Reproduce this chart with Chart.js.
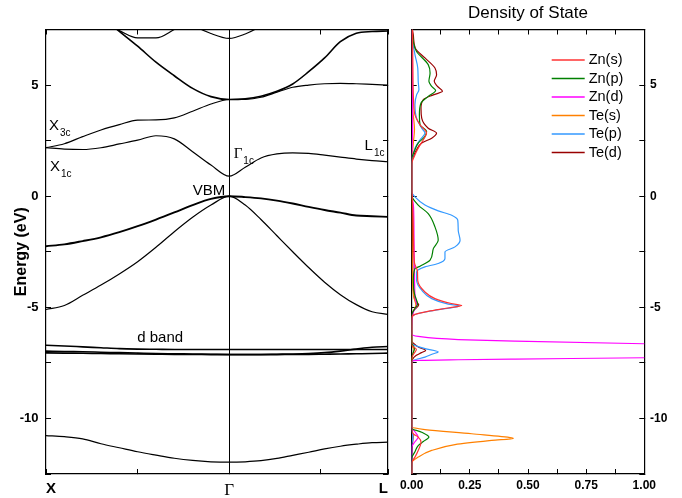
<!DOCTYPE html>
<html>
<head>
<meta charset="utf-8">
<script src="https://cdn.jsdelivr.net/npm/chart.js@4.4.0/dist/chart.umd.min.js"></script>
<style>
  html, body { margin: 0; padding: 0; background: #fff; }
  #wrap { position: relative; width: 682px; height: 498px; overflow: hidden; }
  #bandsBox { position: absolute; left: 0; top: 0; width: 400px; height: 498px; }
  #dosBox { position: absolute; left: 385px; top: 0; width: 297px; height: 498px; }
</style>
</head>
<body>
<div id="wrap">
  <div id="bandsBox"><canvas id="bands"></canvas></div>
  <div id="dosBox"><canvas id="dos"></canvas></div>
</div>
<script>
// k path X -> Gamma -> L (Gamma at 1, L at 1 + sqrt(3)/2)
const kPath = [0, 0.1, 0.2, 0.3, 0.4, 0.5, 0.6, 0.7, 0.8, 0.9, 1.0,
               1.087, 1.173, 1.26, 1.346, 1.433, 1.52, 1.606, 1.693, 1.779, 1.866];
const kTicks = [0, 0.5, 1, 1.5, 1.866];
const kTickLabels = ['X', '', 'Γ', '', 'L'];
const eTicks = [-12.5, -10, -7.5, -5, -2.5, 0, 2.5, 5, 7.5];
const dosTicks = [0, 0.125, 0.25, 0.375, 0.5, 0.625, 0.75, 0.875, 1];

// band energies (eV) on kPath
const bandS  = [-10.77, -10.82, -10.92, -11.14, -11.32, -11.5, -11.65, -11.79, -11.89, -11.95, -11.97,
                -11.95, -11.9, -11.8, -11.66, -11.52, -11.37, -11.25, -11.16, -11.09, -11.07];
const bandD1 = [-6.71, -6.74, -6.78, -6.82, -6.86, -6.88, -6.89, -6.9, -6.9, -6.9, -6.9,
                -6.9, -6.9, -6.9, -6.9, -6.9, -6.9, -6.9, -6.9, -6.9, -6.9];
const bandD2 = [-6.97, -6.99, -7.0, -7.02, -7.04, -7.06, -7.08, -7.09, -7.1, -7.11, -7.12,
                -7.12, -7.12, -7.11, -7.1, -7.08, -7.04, -6.97, -6.88, -6.8, -6.76];
const bandD3 = [-7.05, -7.06, -7.07, -7.08, -7.09, -7.1, -7.11, -7.12, -7.12, -7.13, -7.13,
                -7.13, -7.13, -7.13, -7.12, -7.12, -7.11, -7.1, -7.09, -7.08, -7.06];
const bandLH = [-5.1, -4.92, -4.46, -4.0, -3.5, -2.95, -2.3, -1.6, -0.95, -0.4, 0,
                -0.4, -1.05, -1.78, -2.5, -3.21, -3.87, -4.43, -4.88, -5.2, -5.32];
const bandHH = [-2.25, -2.17, -2.02, -1.85, -1.62, -1.35, -1.05, -0.73, -0.4, -0.12, 0,
                -0.04, -0.1, -0.2, -0.33, -0.48, -0.62, -0.74, -0.87, -0.9, -0.93];
const bandC1 = [2.18, 2.12, 2.1, 2.18, 2.35, 2.52, 2.72, 2.58, 2.0, 1.4, 0.9,
                1.3, 1.72, 1.9, 1.95, 1.93, 1.85, 1.76, 1.67, 1.6, 1.55];
const bandC2 = [2.18, 2.36, 2.68, 2.98, 3.22, 3.42, 3.43, 3.52, 3.82, 4.15, 4.35,
                4.36, 4.45, 4.68, 4.9, 5.0, 5.06, 5.08, 5.06, 5.03, 5.0];
const bandC3 = [null, null, null, 8.1, 7.42, 6.75, 6.03, 5.42, 4.85, 4.48, 4.35,
                4.38, 4.5, 4.72, 5.05, 5.6, 6.22, 6.95, 7.33, 7.41, 7.43];
const bandC4 = [null, null, null, 7.9, 7.45, 7.12, 7.12, 7.5, 7.95, null, null,
                null, null, null, null, null, null, null, null, null, null];
const bandC5 = [null, null, null, null, null, null, null, 8.5, 7.72, 7.32, 7.1,
                7.3, 7.65, 8.1, null, null, null, null, null, null, null];

// partial DOS, [energy, states]
const dosZnS = [[7.5, 0.003], [6.0, 0.005], [5.0, 0.006], [4.3, 0.008], [3.66, 0.014], [3.21, 0.036],
  [2.84, 0.064], [2.54, 0.05], [2.16, 0.028], [1.79, 0.011], [1.45, 0], [0.3, 0], [0, 0.002],
  [-1, 0.006], [-2, 0.008], [-3.0, 0.012], [-3.4, 0.025], [-3.8, 0.026], [-4.31, 0.057], [-4.61, 0.1],
  [-4.83, 0.17], [-4.92, 0.215], [-5.03, 0.157], [-5.18, 0.07], [-5.32, 0.014], [-5.5, 0], [-6.7, 0],
  [-6.9, 0.02], [-7.1, 0.008], [-7.3, 0], [-10.5, 0], [-10.7, 0.007], [-10.84, 0.028], [-11.07, 0.04],
  [-11.44, 0.028], [-11.74, 0.014], [-12.0, 0], [-12.5, 0]];
const dosZnP = [[7.5, 0.002], [6.9, 0.008], [6.52, 0.02], [5.92, 0.071], [5.54, 0.079], [5.17, 0.074],
  [4.95, 0.085], [4.75, 0.103], [4.49, 0.071], [4.19, 0.04], [3.66, 0.033], [3.21, 0.036], [2.91, 0.064],
  [2.69, 0.057], [2.39, 0.028], [2.09, 0.014], [1.65, 0], [0.5, 0], [0.04, 0], [-0.4, 0.028],
  [-0.78, 0.071], [-1.38, 0.1], [-1.98, 0.114], [-2.36, 0.093], [-2.88, 0.079], [-3.15, 0.036],
  [-3.26, 0.014], [-3.8, 0.007], [-4.4, 0.012], [-4.86, 0.025], [-5.05, 0.014], [-5.35, 0], [-6.6, 0],
  [-6.85, 0.012], [-7.0, 0.008], [-7.3, 0], [-10.44, 0], [-10.62, 0.043], [-10.84, 0.074],
  [-11.04, 0.05], [-11.22, 0.028], [-11.5, 0.014], [-11.8, 0], [-12.5, 0]];
const dosZnD = [[7.5, 0.001], [3.0, 0.004], [1.5, 0], [0.3, 0], [0.2, 0], [-0.5, 0.008], [-2, 0.01],
  [-3.5, 0.012], [-4.6, 0.015], [-4.9, 0.022], [-5.2, 0.008], [-5.5, 0.002], [-6.2, 0], [-6.31, 0.028],
  [-6.45, 0.2], [-6.52, 0.445], [-6.64, 1.0], [-6.75, 1.6], [-7.18, 1.6], [-7.27, 1.0], [-7.33, 0.445],
  [-7.36, 0.2], [-7.39, 0.028], [-7.43, 0], [-10.4, 0], [-10.6, 0.014], [-10.84, 0.028], [-11.05, 0.014],
  [-11.3, 0], [-12.5, 0]];
const dosTeS = [[7.5, 0.001], [4.0, 0.004], [3.0, 0.012], [2.5, 0.008], [1.8, 0.002], [1.4, 0], [0, 0],
  [-3, 0.002], [-4.5, 0.008], [-4.9, 0.018], [-5.2, 0.006], [-5.5, 0], [-6.7, 0], [-6.9, 0.01],
  [-7.1, 0.005], [-7.3, 0], [-10.39, 0], [-10.5, 0.057], [-10.69, 0.258], [-10.87, 0.43], [-10.9, 0.437],
  [-10.99, 0.344], [-11.18, 0.186], [-11.44, 0.086], [-11.74, 0.028], [-12.0, 0], [-12.5, 0]];
const dosTeP = [[7.5, 0.002], [7.12, 0.003], [6.37, 0.014], [5.77, 0.026], [5.17, 0.028], [4.79, 0.031],
  [4.56, 0.021], [4.11, 0.014], [3.51, 0.021], [3.06, 0.043], [2.84, 0.057], [2.54, 0.036], [2.16, 0.014],
  [1.72, 0.003], [1.4, 0], [0.4, 0], [0.19, 0], [-0.03, 0.014], [-0.4, 0.057], [-0.66, 0.114],
  [-0.86, 0.172], [-1.08, 0.198], [-1.53, 0.2], [-1.98, 0.208], [-2.28, 0.186], [-2.51, 0.143],
  [-2.8, 0.143], [-3.03, 0.114], [-3.18, 0.057], [-3.41, 0.021], [-3.78, 0.021], [-4.23, 0.043],
  [-4.61, 0.086], [-4.86, 0.157], [-4.94, 0.205], [-5.06, 0.143], [-5.21, 0.057], [-5.36, 0.007],
  [-5.5, 0], [-6.62, 0], [-6.86, 0.057], [-7.01, 0.114], [-7.1, 0.09], [-7.24, 0.057], [-7.39, 0.007],
  [-7.5, 0], [-10.5, 0], [-10.85, 0.005], [-11.2, 0], [-12.5, 0]];
const dosTeD = [[7.5, 0.003], [7.25, 0.007], [6.67, 0.015], [6.22, 0.057], [5.77, 0.1], [5.46, 0.107],
  [5.17, 0.097], [4.95, 0.11], [4.72, 0.132], [4.56, 0.093], [4.34, 0.05], [3.96, 0.04], [3.51, 0.043],
  [3.06, 0.071], [2.84, 0.107], [2.61, 0.086], [2.39, 0.043], [2.09, 0.021], [1.79, 0.007], [1.55, 0],
  [1.0, 0], [0.2, 0], [-0.5, 0.004], [-2, 0.004], [-3.5, 0.005], [-4.6, 0.012], [-4.9, 0.03],
  [-5.15, 0.008], [-5.4, 0], [-6.5, 0], [-6.64, 0.01], [-6.8, 0.03], [-6.94, 0.06], [-7.05, 0.04],
  [-7.16, 0.02], [-7.35, 0.003], [-7.5, 0], [-10.4, 0], [-10.8, 0.006], [-11.2, 0.003], [-12.5, 0]];

const bandNotes = [
  { main: 'X', sub: '3c', k: 0.016, e: 2.97, align: 'left' },
  { main: 'X', sub: '1c', k: 0.022, e: 1.14, align: 'left' },
  { main: 'Γ', sub: '1c', k: 1.024, e: 1.7, align: 'left', serif: true },
  { main: 'L', sub: '1c', k: 1.847, e: 2.07, align: 'right' },
  { main: 'VBM', sub: '', k: 0.978, e: 0.05, align: 'right' },
  { main: 'd band', sub: '', k: 0.623, e: -6.56, align: 'center' }
];

const SANS = 'Liberation Sans';
const tickFont = { family: SANS, size: 13, weight: 'bold' };

function fixTicks(values) {
  return function (scale) { scale.ticks = values.map(v => ({ value: v })); };
}
function fixWidth(w) { return function (scale) { scale.width = w; }; }
function fixHeight(h) { return function (scale) { scale.height = h; }; }

function bandSet(values, width) {
  return {
    data: values.map((e, i) => ({ x: kPath[i], y: e })),
    borderColor: '#000',
    borderWidth: width,
    pointRadius: 0,
    cubicInterpolationMode: 'monotone',
    spanGaps: false
  };
}

function dosSet(label, pairs, color) {
  return {
    label: label,
    data: pairs.map(p => ({ x: p[1], y: p[0] })),
    borderColor: color,
    borderWidth: 1.2,
    pointRadius: 0,
    cubicInterpolationMode: 'monotone'
  };
}

// labels written inside the band panel
const notesPlugin = {
  id: 'notes',
  afterDatasetsDraw(chart) {
    const ctx = chart.ctx;
    const x = chart.scales.x, y = chart.scales.y;
    ctx.save();
    ctx.fillStyle = '#000';
    ctx.textBaseline = 'alphabetic';
    bandNotes.forEach(n => {
      const mainFont = n.serif ? '15px "Liberation Serif"' : '15px "' + SANS + '"';
      const subFont = '10px "' + SANS + '"';
      ctx.font = mainFont;
      const wMain = ctx.measureText(n.main).width;
      ctx.font = subFont;
      const wSub = n.sub ? ctx.measureText(n.sub).width + 1 : 0;
      let px = x.getPixelForValue(n.k);
      const py = y.getPixelForValue(n.e);
      const total = wMain + wSub;
      if (n.align === 'right') px -= total;
      if (n.align === 'center') px -= total / 2;
      ctx.textAlign = 'left';
      ctx.font = mainFont;
      ctx.fillText(n.main, px, py);
      if (n.sub) {
        ctx.font = subFont;
        ctx.fillText(n.sub, px + wMain + 1, py + 6);
      }
    });
    ctx.restore();
  }
};

// legend and title for the DOS panel
const dosLegend = {
  id: 'dosLegend',
  afterDraw(chart) {
    const ctx = chart.ctx;
    const area = chart.chartArea;
    ctx.save();
    ctx.textBaseline = 'middle';
    ctx.textAlign = 'left';
    ctx.font = '14.5px "' + SANS + '"';
    chart.data.datasets.forEach((ds, i) => {
      const ly = area.top + 30.5 + i * 18.5;
      const lx = area.left + 140;
      ctx.strokeStyle = ds.borderColor;
      ctx.lineWidth = 1.6;
      ctx.beginPath();
      ctx.moveTo(lx, ly);
      ctx.lineTo(lx + 33, ly);
      ctx.stroke();
      ctx.fillStyle = '#000';
      ctx.fillText(ds.label, lx + 37, ly);
    });
    ctx.textAlign = 'center';
    ctx.font = '17px "' + SANS + '"';
    ctx.fillText('Density of State', (area.left + area.right) / 2, 13);
    ctx.restore();
  }
};

const frame = { color: '#000', width: 1.2 };
const hidden = 'rgba(0,0,0,0)';

new Chart(document.getElementById('bands'), {
  type: 'line',
  data: {
    datasets: [
      bandSet(bandS, 1.2),
      bandSet(bandD1, 1.6),
      bandSet(bandD2, 1.6),
      bandSet(bandD3, 1.6),
      bandSet(bandLH, 1.2),
      bandSet(bandHH, 1.9),
      bandSet(bandC1, 1.2),
      bandSet(bandC2, 1.2),
      bandSet(bandC3, 1.6),
      bandSet(bandC4, 1.2),
      bandSet(bandC5, 1.2)
    ]
  },
  options: {
    responsive: true,
    maintainAspectRatio: false,
    animation: false,
    layout: { padding: { top: 29.5, right: 0, bottom: 0, left: 0 } },
    plugins: { legend: { display: false }, tooltip: { enabled: false } },
    scales: {
      x: {
        type: 'linear', position: 'bottom', min: 0, max: 1.866,
        afterBuildTicks: fixTicks(kTicks), afterFit: fixHeight(24),
        grid: {
          color: c => (c.tick && c.tick.value === 1 ? '#000' : hidden),
          tickColor: '#000', tickLength: -5, lineWidth: 1
        },
        border: frame,
        ticks: {
          align: 'inner', padding: 11, color: '#000', autoSkip: false, maxRotation: 0,
          font: c => (c.tick && c.tick.value === 1
            ? { family: 'Liberation Serif', size: 17 }
            : { family: SANS, size: 15, weight: 'bold' }),
          callback: (v, i) => kTickLabels[i]
        }
      },
      x2: {
        type: 'linear', position: 'top', min: 0, max: 1.866,
        afterBuildTicks: fixTicks(kTicks), afterFit: fixHeight(0),
        grid: { drawOnChartArea: false, tickColor: '#000', tickLength: -5 },
        border: frame,
        ticks: { display: false }
      },
      y: {
        type: 'linear', position: 'left', min: -12.5, max: 7.5,
        afterBuildTicks: fixTicks(eTicks), afterFit: fixWidth(46),
        grid: { drawOnChartArea: false, tickColor: '#000', tickLength: -5 },
        border: frame,
        title: {
          display: true, text: 'Energy (eV)', color: '#000',
          font: { family: SANS, size: 16, weight: 'bold' },
          padding: { top: 11.5, bottom: 0 }
        },
        ticks: {
          padding: 12.5, color: '#000', font: tickFont,
          callback: v => (v % 5 === 0 ? String(v) : '')
        }
      },
      y2: {
        type: 'linear', position: 'right', min: -12.5, max: 7.5,
        afterBuildTicks: fixTicks(eTicks), afterFit: fixWidth(12),
        grid: { drawOnChartArea: false, tickColor: '#000', tickLength: -5 },
        border: frame,
        ticks: { display: false }
      }
    }
  },
  plugins: [notesPlugin]
});

new Chart(document.getElementById('dos'), {
  type: 'line',
  data: {
    datasets: [
      dosSet('Zn(s)', dosZnS, '#ff3333'),
      dosSet('Zn(p)', dosZnP, '#008000'),
      dosSet('Zn(d)', dosZnD, '#ff00ff'),
      dosSet('Te(s)', dosTeS, '#ff8000'),
      dosSet('Te(p)', dosTeP, '#3399ff'),
      dosSet('Te(d)', dosTeD, '#990000')
    ]
  },
  options: {
    indexAxis: 'y',
    responsive: true,
    maintainAspectRatio: false,
    animation: false,
    layout: { padding: { top: 29.5, right: 0, bottom: 0, left: 0 } },
    plugins: { legend: { display: false }, tooltip: { enabled: false } },
    scales: {
      x: {
        type: 'linear', position: 'bottom', min: 0, max: 1,
        afterBuildTicks: fixTicks(dosTicks), afterFit: fixHeight(24),
        grid: { drawOnChartArea: false, tickColor: '#000', tickLength: -5 },
        border: frame,
        ticks: {
          padding: 9, color: '#000', autoSkip: false, maxRotation: 0,
          font: { family: SANS, size: 12, weight: 'bold' },
          callback: (v, i) => (i % 2 === 0 ? dosTicks[i].toFixed(2) : '')
        }
      },
      x2: {
        type: 'linear', position: 'top', min: 0, max: 1,
        afterBuildTicks: fixTicks(dosTicks), afterFit: fixHeight(0),
        grid: { drawOnChartArea: false, tickColor: '#000', tickLength: -5 },
        border: frame,
        ticks: { display: false }
      },
      y: {
        type: 'linear', position: 'left', min: -12.5, max: 7.5,
        afterBuildTicks: fixTicks(eTicks), afterFit: fixWidth(26.7),
        grid: { drawOnChartArea: false, tickColor: '#000', tickLength: -5 },
        border: frame,
        ticks: { display: false }
      },
      y2: {
        type: 'linear', position: 'right', min: -12.5, max: 7.5,
        afterBuildTicks: fixTicks(eTicks), afterFit: fixWidth(37.7),
        grid: { drawOnChartArea: false, tickColor: '#000', tickLength: -5 },
        border: frame,
        ticks: {
          padding: 10.7, color: '#000',
          font: { family: SANS, size: 12, weight: 'bold' },
          callback: v => (v % 5 === 0 ? String(v) : '')
        }
      }
    }
  },
  plugins: [dosLegend]
});
</script>
</body>
</html>
